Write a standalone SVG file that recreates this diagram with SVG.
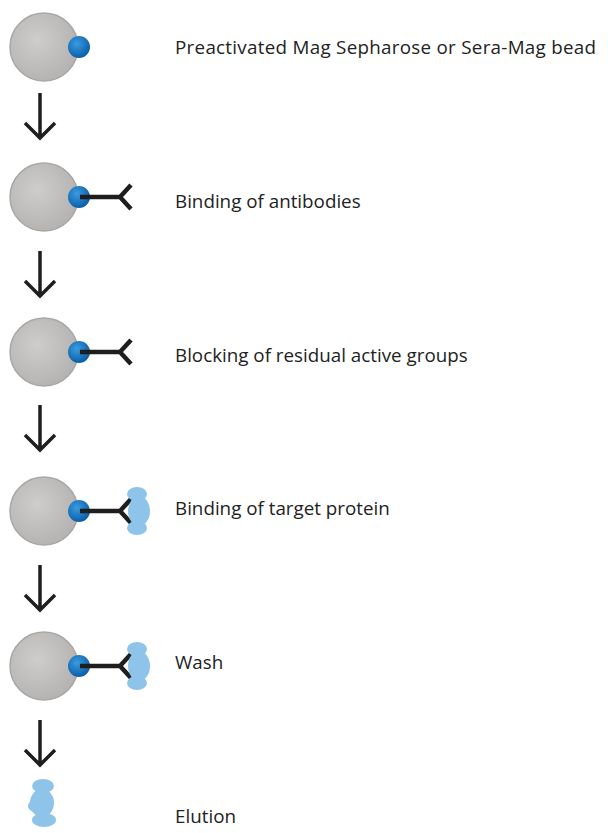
<svg xmlns="http://www.w3.org/2000/svg" width="608" height="833" viewBox="0 0 608 833">
<defs>
<radialGradient id="g" cx="0.4" cy="0.4" r="0.6"><stop offset="0" stop-color="#cfcdcb"/><stop offset="1" stop-color="#b6b4b2"/></radialGradient>
<radialGradient id="b" cx="0.4" cy="0.35" r="0.65"><stop offset="0" stop-color="#3b9be0"/><stop offset="1" stop-color="#0b5fa8"/></radialGradient>
<g id="bead"><circle cx="44" cy="0" r="34" fill="url(#g)" stroke="#a9a7a5" stroke-width="1.5"/><circle cx="79" cy="0" r="11" fill="url(#b)"/></g>
<path id="ab" d="M80 0H120M131 -12L120 0L131 12" fill="none" stroke="#1e1e1e" stroke-width="4.5" stroke-linejoin="miter"/>
<g id="prot" fill="#8ec3ea"><ellipse cx="0" cy="-17" rx="10" ry="7"/><ellipse cx="2" cy="0" rx="11" ry="15"/><ellipse cx="0" cy="17" rx="10" ry="7"/></g>
<g id="prot2" fill="#8ec3ea"><ellipse cx="2" cy="-17" rx="11" ry="7"/><ellipse cx="1" cy="0" rx="12" ry="14"/><ellipse cx="-6" cy="3" rx="7" ry="6"/><ellipse cx="3" cy="17" rx="12" ry="7"/></g>
<path id="arr" d="M0 0V45M-15 30L0 45L15 30" fill="none" stroke="#1e1e1e" stroke-width="3.5"/>
</defs>
<style>text{font-family:"Open Sans","Liberation Sans",sans-serif;font-size:18.8px;fill:#222}</style>
<g id="connectors">
<use href="#arr" x="40" y="93"/><use href="#arr" x="40" y="251"/><use href="#arr" x="40" y="405"/><use href="#arr" x="40" y="565"/><use href="#arr" x="40" y="720"/>
</g>
<g id="n1"><use href="#bead" y="47"/><text x="175" y="54" textLength="421">Preactivated Mag Sepharose or Sera-Mag bead</text></g>
<g id="n2"><use href="#bead" y="197"/><use href="#ab" y="197"/><text x="175" y="208">Binding of antibodies</text></g>
<g id="n3"><use href="#bead" y="352"/><use href="#ab" y="352"/><text x="175" y="362">Blocking of residual active groups</text></g>
<g id="n4"><use href="#bead" y="511"/><use href="#ab" y="511"/><use href="#prot" x="137" y="511"/><text x="175" y="515">Binding of target protein</text></g>
<g id="n5"><use href="#bead" y="666"/><use href="#ab" y="666"/><use href="#prot" x="137" y="666"/><text x="175" y="669">Wash</text></g>
<g id="n6"><use href="#prot2" x="41" y="803"/><text x="175" y="823">Elution</text></g>
</svg>
